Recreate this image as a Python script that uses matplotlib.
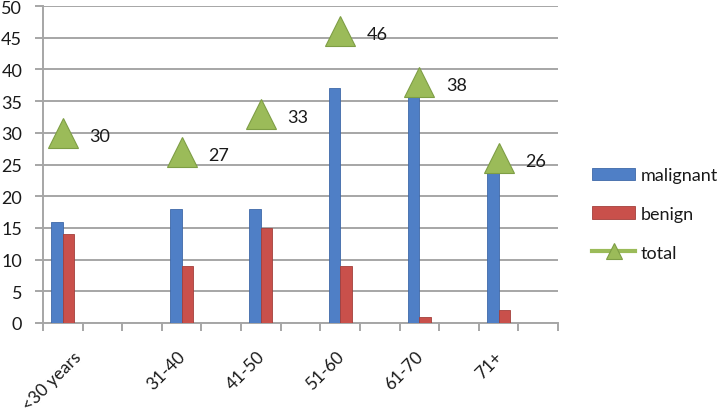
import numpy as np
import matplotlib
matplotlib.use("Agg")
import matplotlib.pyplot as plt
from matplotlib.transforms import ScaledTranslation

# age groups (blank slots are empty rows in the sheet)
categories = ['<30 years', '', '', '31-40', '', '41-50', '', '51-60', '', '61-70', '', '71+', '']
malignant = [16, None, None, 18, None, 18, None, 37, None, 36, None, 24, None]
benign = [14, None, None, 9, None, 15, None, 9, None, 1, None, 2, None]
total = [30, None, None, 27, None, 33, None, 46, None, 38, None, 26, None]

BLUE = '#4F7FC6'
RED = '#C9504B'
GREEN = '#9BBB59'
GRID = '#A6A6A6'
FS = 13

plt.rcParams['font.family'] = ['Lato', 'DejaVu Sans']

fig = plt.figure(figsize=(7.25, 4.14), dpi=100)
ax = fig.add_axes([43 / 725, 1 - 324 / 414, 515 / 725, 317 / 414])

x = np.arange(len(categories))
mal = np.array([np.nan if v is None else v for v in malignant], dtype=float)
ben = np.array([np.nan if v is None else v for v in benign], dtype=float)
tot = np.array([np.nan if v is None else v for v in total], dtype=float)

w = 0.29
b1 = ax.bar(x - w / 2, mal, w, color=BLUE, edgecolor='#3F68A8', linewidth=0.6,
            label='malignant', zorder=3)
b2 = ax.bar(x + w / 2, ben, w, color=RED, edgecolor='#A33F3B', linewidth=0.6,
            label='benign', zorder=3)
ln, = ax.plot(x, tot, color=GREEN, linewidth=3, marker='^', markersize=22,
              markerfacecolor=GREEN, markeredgecolor='#7E9E45', markeredgewidth=0.8,
              label='total', zorder=4)

for xi, v in zip(x, tot):
    if not np.isnan(v):
        ax.annotate(f'{int(v)}', (xi, v), xytext=(19, -2), textcoords='offset points',
                    ha='left', va='center', fontsize=FS, color='#1A1A1A', zorder=5)

ax.set_xlim(-0.5, len(categories) - 0.5)
ax.set_ylim(0, 50)
ax.set_yticks(np.arange(0, 51, 5))
ax.grid(axis='y', color=GRID, linewidth=1.4, zorder=0)
ax.set_axisbelow(True)

ax.set_xticks(x)
ax.set_xticklabels(categories, rotation=45, ha='right', va='top', rotation_mode='anchor',
                   fontsize=12.5, color='#1A1A1A')
ax.set_xticks(np.arange(-0.5, len(categories), 1), minor=True)
ax.tick_params(axis='x', which='major', length=0, pad=18)
ax.tick_params(axis='x', which='minor', length=6, width=1.4, color=GRID)
ax.tick_params(axis='y', length=6, width=1.4, color=GRID, pad=9,
               labelsize=FS, labelcolor='#1A1A1A')

# nudge the rotated labels a little left, where Excel puts them;
# the long first one goes right so it stays inside the picture
for i, lbl in enumerate(ax.get_xticklabels()):
    dx = 10 if i == 0 else -4
    lbl.set_transform(lbl.get_transform() + ScaledTranslation(dx / 100, 0, fig.dpi_scale_trans))

for s in ['top', 'right']:
    ax.spines[s].set_visible(False)
for s in ['left', 'bottom']:
    ax.spines[s].set_color(GRID)
    ax.spines[s].set_linewidth(1.4)

leg = fig.legend([b1, b2, ln], ['malignant', 'benign', 'total'],
                 loc='center left', bbox_to_anchor=(592 / 725, 1 - 215 / 414),
                 frameon=False, fontsize=FS, handlelength=2.4, handleheight=0.7,
                 labelspacing=1.25, borderpad=0, borderaxespad=0, handletextpad=0.3)
for t in leg.get_texts():
    t.set_color('#1A1A1A')
leg.legend_handles[2].set_markersize(12)

fig.savefig('out.png', dpi=100)
